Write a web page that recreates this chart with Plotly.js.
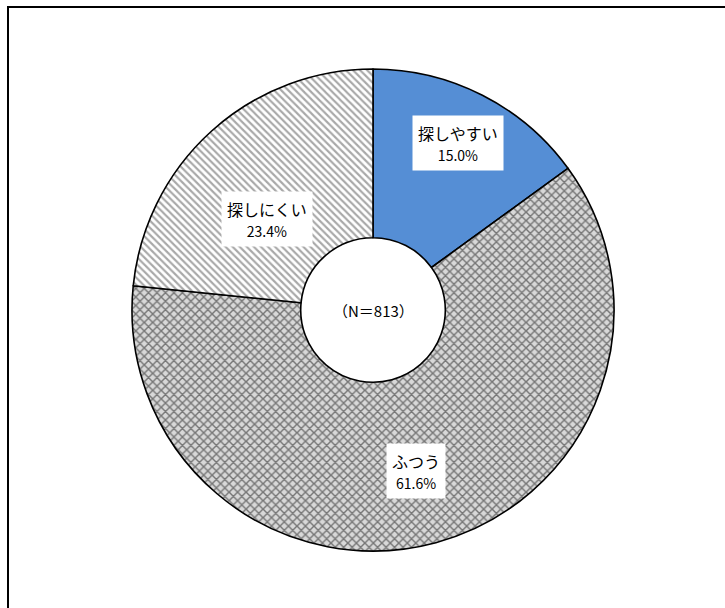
<!DOCTYPE html>
<html>
<head>
<meta charset="utf-8">
<script src="https://cdn.plot.ly/plotly-3.0.1.min.js"></script>
<style>html,body{margin:0;padding:0;background:#fff;}</style>
</head>
<body>
<div id="chart" style="width:725px;height:608px;"></div>
<script>
const categories = ["探しやすい", "ふつう", "探しにくい"];
const values = [15.0, 61.6, 23.4];
const valueLabels = ["15.0%", "61.6%", "23.4%"];
const centerLabel = "（N＝813）";

// label placement (fraction of outer radius) per slice
const labelRadius = [0.78, 0.69, 0.58];
const labelAngleShift = [0, 0, -7];

const W = 725, H = 608;
const cx = 373, cyTop = 310, R = 241;
const domX = [(cx - R) / W, (cx + R) / W];
const domY = [(H - cyTop - R) / H, (H - cyTop + R) / H];

const trace = {
  type: "pie",
  labels: categories,
  values: values,
  sort: false,
  direction: "clockwise",
  rotation: 0,
  hole: 0.30,
  textinfo: "none",
  hoverinfo: "label+percent",
  showlegend: false,
  domain: {x: domX, y: domY},
  marker: {
    colors: ["#558ED5", "#b0b0b0", "#ffffff"],
    line: {color: "#000000", width: 1.6},
    pattern: {
      shape: ["", "x", "\\"],
      fgcolor: ["#558ED5", "#767676", "#a8a8a8"],
      bgcolor: ["#558ED5", "#d8d8d8", "#ffffff"],
      size: [6, 6, 5],
      solidity: [0.5, 0.42, 0.42],
      fillmode: "replace"
    }
  }
};

const total = values.reduce((a, b) => a + b, 0);
const annotations = [];
let cum = 0;
values.forEach((v, i) => {
  const mid = (cum + v / 2) / total * 360 + labelAngleShift[i];
  cum += v;
  const rad = mid * Math.PI / 180;
  const px = cx + Math.sin(rad) * R * labelRadius[i];
  const py = cyTop - Math.cos(rad) * R * labelRadius[i];
  annotations.push({
    xref: "paper", yref: "paper",
    x: px / W, y: (H - py) / H,
    xanchor: "center", yanchor: "middle",
    showarrow: false,
    text: categories[i] + "<br><span style='font-size:14px'>" + valueLabels[i] + "</span>",
    font: {family: "Noto Sans CJK JP, sans-serif", size: 16, color: "#000"},
    bgcolor: "#ffffff",
    borderpad: 5,
    align: "center"
  });
});
annotations.push({
  xref: "paper", yref: "paper",
  x: cx / W, y: (H - cyTop) / H,
  xanchor: "center", yanchor: "middle",
  showarrow: false,
  text: centerLabel,
  font: {family: "Noto Sans CJK JP, sans-serif", size: 15, color: "#000"}
});

const layout = {
  width: W, height: H,
  margin: {l: 0, r: 0, t: 0, b: 0},
  paper_bgcolor: "#ffffff",
  annotations: annotations,
  shapes: [{
    type: "rect", xref: "paper", yref: "paper",
    x0: 8 / W, x1: 1.02, y0: -0.02, y1: 1 - 7 / H,
    line: {color: "#000", width: 2}
  }]
};

Plotly.newPlot("chart", [trace], layout, {displayModeBar: false, staticPlot: true});
</script>
</body>
</html>
